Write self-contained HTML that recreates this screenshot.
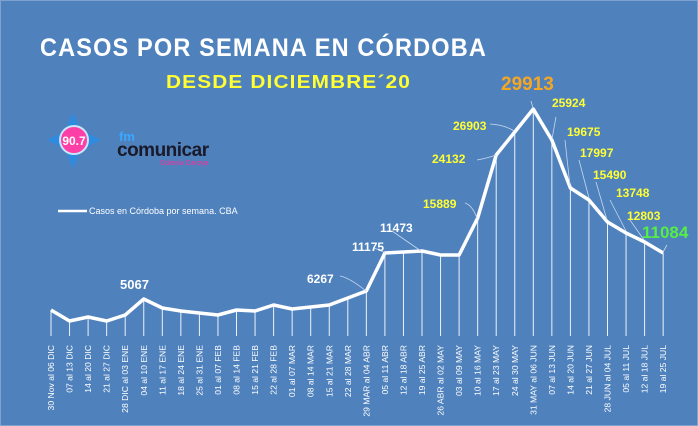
<!DOCTYPE html>
<html><head><meta charset="utf-8"><style>
html,body{margin:0;padding:0;background:#4f81bd;}
svg{display:block;font-family:"Liberation Sans",sans-serif;}
</style></head><body>
<svg width="698" height="426" viewBox="0 0 698 426" xmlns="http://www.w3.org/2000/svg">
<rect x="0" y="0" width="698" height="426" fill="#4f81bd"/>
<rect x="0.5" y="0.5" width="697" height="425" fill="none" stroke="#7fa3d1" stroke-width="1"/>
<text x="40" y="56" fill="#fff" font-size="25" font-weight="bold" letter-spacing="1.2" textLength="447" lengthAdjust="spacingAndGlyphs">CASOS POR SEMANA EN CÓRDOBA</text>
<text x="166" y="88" fill="#ffff33" font-size="18" font-weight="bold" letter-spacing="1" textLength="245" lengthAdjust="spacingAndGlyphs">DESDE DICIEMBRE´20</text>

<!-- logo -->
<g>
<polygon points="73,113 80,128 66,128" fill="#2e8be0"/>
<polygon points="73,168 80,152 66,152" fill="#2e8be0"/>
<polygon points="47,140 61,133 61,147" fill="#2e8be0"/>
<polygon points="101,140 87,133 87,147" fill="#2e8be0"/>
<circle cx="74" cy="140" r="14" fill="#ff3fa8" stroke="#c8e6ff" stroke-width="2"/>
<text x="74" y="145" fill="#fff" font-size="12" font-weight="bold" text-anchor="middle">90.7</text>
<text x="119" y="141" fill="#3aa8ff" font-size="13" font-weight="bold">fm</text>
<text x="117" y="156" fill="#1a1a2a" font-size="19" font-weight="bold" letter-spacing="-0.5">comunicar</text>
<text x="160" y="165" fill="#ff2a9a" font-size="7">Colonia Caroya</text>
</g>
<line x1="58" y1="211" x2="87" y2="211" stroke="#fff" stroke-width="2.5"/>
<text x="89" y="214" fill="#fff" font-size="9">Casos en Córdoba por semana. CBA</text>

<g stroke="#fff" stroke-width="1" opacity="0.9">
<line x1="51" y1="310" x2="51" y2="336"/><line x1="69.55" y1="321" x2="69.55" y2="336"/><line x1="88.1" y1="317" x2="88.1" y2="336"/><line x1="106.65" y1="321" x2="106.65" y2="336"/><line x1="125.2" y1="315" x2="125.2" y2="336"/><line x1="143.75" y1="299" x2="143.75" y2="336"/><line x1="162.3" y1="308" x2="162.3" y2="336"/><line x1="180.85" y1="311" x2="180.85" y2="336"/><line x1="199.4" y1="313" x2="199.4" y2="336"/><line x1="217.95" y1="315" x2="217.95" y2="336"/><line x1="236.5" y1="310" x2="236.5" y2="336"/><line x1="255.05" y1="311" x2="255.05" y2="336"/><line x1="273.6" y1="305" x2="273.6" y2="336"/><line x1="292.15" y1="309" x2="292.15" y2="336"/><line x1="310.7" y1="307" x2="310.7" y2="336"/><line x1="329.25" y1="305" x2="329.25" y2="336"/><line x1="347.8" y1="298" x2="347.8" y2="336"/><line x1="366.35" y1="291" x2="366.35" y2="336"/><line x1="384.9" y1="253" x2="384.9" y2="336"/><line x1="403.45" y1="252" x2="403.45" y2="336"/><line x1="422" y1="251" x2="422" y2="336"/><line x1="440.55" y1="255" x2="440.55" y2="336"/><line x1="459.1" y1="255" x2="459.1" y2="336"/><line x1="477.65" y1="218" x2="477.65" y2="336"/><line x1="496.2" y1="155" x2="496.2" y2="336"/><line x1="514.75" y1="132" x2="514.75" y2="336"/><line x1="533.3" y1="109" x2="533.3" y2="336"/><line x1="551.85" y1="140" x2="551.85" y2="336"/><line x1="570.4" y1="188" x2="570.4" y2="336"/><line x1="588.95" y1="200" x2="588.95" y2="336"/><line x1="607.5" y1="222" x2="607.5" y2="336"/><line x1="626.05" y1="233" x2="626.05" y2="336"/><line x1="644.6" y1="242" x2="644.6" y2="336"/><line x1="663.15" y1="253" x2="663.15" y2="336"/>
</g>
<polyline fill="none" stroke="#fff" stroke-width="3.5" stroke-linejoin="round" points="51,310 69.55,321 88.1,317 106.65,321 125.2,315 143.75,299 162.3,308 180.85,311 199.4,313 217.95,315 236.5,310 255.05,311 273.6,305 292.15,309 310.7,307 329.25,305 347.8,298 366.35,291 384.9,253 403.45,252 422,251 440.55,255 459.1,255 477.65,218 496.2,155 514.75,132 533.3,109 551.85,140 570.4,188 588.95,200 607.5,222 626.05,233 644.6,242 663.15,253"/>

<g fill="none" stroke="#c8d8ee" stroke-width="0.8">
<path d="M340,276 Q350,278 366,291"/><path d="M374,248 Q380,250 385,253"/><path d="M392,231 Q405,240 421,251"/><path d="M465,203 Q472,205 477,218"/><path d="M477,160 Q488,158 496,155"/><path d="M490,124 Q505,125 514,131"/><path d="M531,101 L533,108"/><path d="M556,117 L552,139"/><path d="M565,140 L570,186"/><path d="M579,160 L589,198"/><path d="M596,182 L607,220"/><path d="M610,200 L626,231"/><path d="M630,220 L644,240"/><path d="M667,245 L663,252"/>
</g>

<g font-weight="bold" font-size="12">
<text x="120" y="289" fill="#fff" font-size="13">5067</text>
<text x="307" y="283" fill="#fff">6267</text>
<text x="352" y="251" fill="#fff">11175</text>
<text x="380" y="232" fill="#fff">11473</text>
<text x="423" y="208" fill="#ffff33">15889</text>
<text x="432" y="163" fill="#ffff33">24132</text>
<text x="453" y="130" fill="#ffff33">26903</text>
<text x="501" y="90" fill="#f5a623" font-size="19">29913</text>
<text x="552" y="107" fill="#ffff33">25924</text>
<text x="567" y="136" fill="#ffff33">19675</text>
<text x="580" y="157" fill="#ffff33">17997</text>
<text x="593" y="179" fill="#ffff33">15490</text>
<text x="616" y="197" fill="#ffff33">13748</text>
<text x="627" y="220" fill="#ffff33">12803</text>
<text x="642" y="238" fill="#55ee44" font-size="17">11084</text>
</g>

<g fill="#fff" font-size="8.6" text-anchor="end">
<text transform="translate(54,345) rotate(-90)">30 Nov al 06 DIC</text>
<text transform="translate(72.55,345) rotate(-90)">07 al 13 DIC</text>
<text transform="translate(91.1,345) rotate(-90)">14 al 20 DIC</text>
<text transform="translate(109.65,345) rotate(-90)">21 al 27 DIC</text>
<text transform="translate(128.2,345) rotate(-90)">28 DIC al 03 ENE</text>
<text transform="translate(146.75,345) rotate(-90)">04 al 10 ENE</text>
<text transform="translate(165.3,345) rotate(-90)">11 al 17 ENE</text>
<text transform="translate(183.85,345) rotate(-90)">18 al 24 ENE</text>
<text transform="translate(202.4,345) rotate(-90)">25 al 31 ENE</text>
<text transform="translate(220.95,345) rotate(-90)">01 al 07 FEB</text>
<text transform="translate(239.5,345) rotate(-90)">08 al 14 FEB</text>
<text transform="translate(258.05,345) rotate(-90)">15 al 21 FEB</text>
<text transform="translate(276.6,345) rotate(-90)">22 al 28 FEB</text>
<text transform="translate(295.15,345) rotate(-90)">01 al 07 MAR</text>
<text transform="translate(313.7,345) rotate(-90)">08 al 14 MAR</text>
<text transform="translate(332.25,345) rotate(-90)">15 al 21 MAR</text>
<text transform="translate(350.8,345) rotate(-90)">22 al 28 MAR</text>
<text transform="translate(369.35,345) rotate(-90)">29 MAR al 04 ABR</text>
<text transform="translate(387.9,345) rotate(-90)">05  al 11 ABR</text>
<text transform="translate(406.45,345) rotate(-90)">12 al 18 ABR</text>
<text transform="translate(425,345) rotate(-90)">19 al 25 ABR</text>
<text transform="translate(443.55,345) rotate(-90)">26 ABR al 02 MAY</text>
<text transform="translate(462.1,345) rotate(-90)">03 al 09 MAY</text>
<text transform="translate(480.65,345) rotate(-90)">10 al 16 MAY</text>
<text transform="translate(499.2,345) rotate(-90)">17 al 23 MAY</text>
<text transform="translate(517.75,345) rotate(-90)">24 al 30 MAY</text>
<text transform="translate(536.3,345) rotate(-90)">31 MAY al 06 JUN</text>
<text transform="translate(554.85,345) rotate(-90)">07 al 13 JUN</text>
<text transform="translate(573.4,345) rotate(-90)">14 al 20 JUN</text>
<text transform="translate(591.95,345) rotate(-90)">21 al 27 JUN</text>
<text transform="translate(610.5,345) rotate(-90)">28 JUN al 04 JUL</text>
<text transform="translate(629.05,345) rotate(-90)">05 al 11 JUL</text>
<text transform="translate(647.6,345) rotate(-90)">12 al 18 JUL</text>
<text transform="translate(666.15,345) rotate(-90)">19 al 25 JUL</text>
</g>
</svg>
</body></html>
